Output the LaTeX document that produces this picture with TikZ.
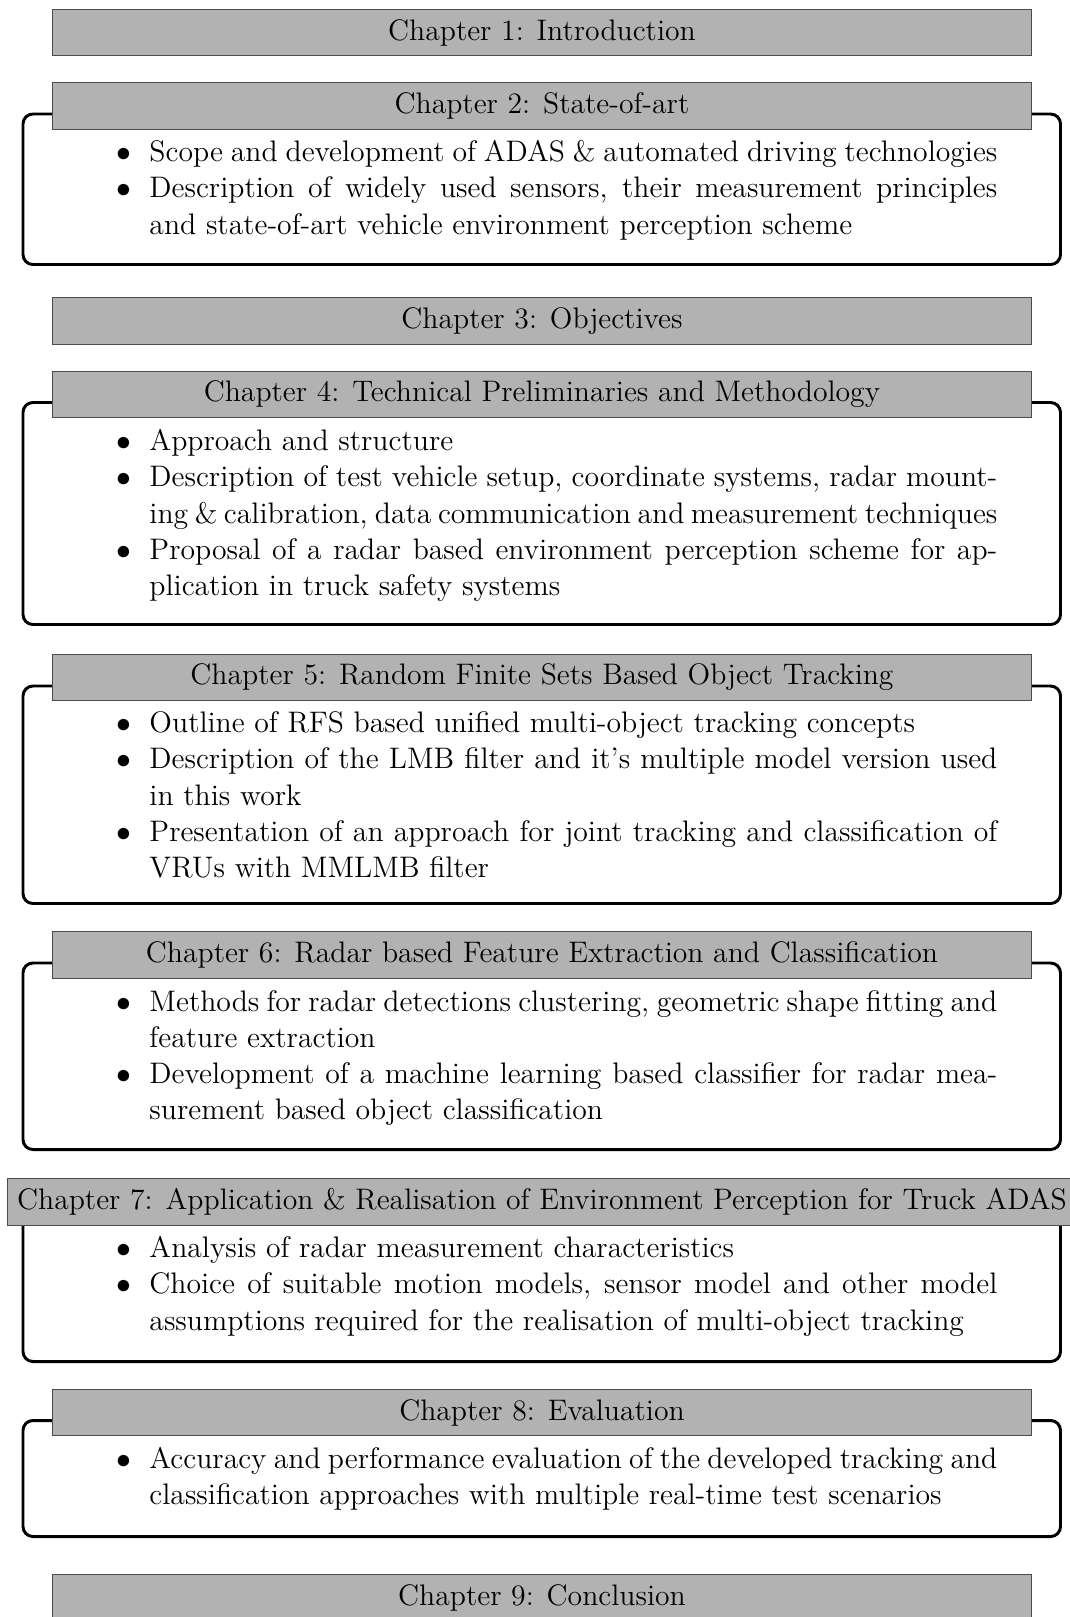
\documentclass[tikz,border=0pt]{standalone}
\newcommand\itembullet{\llap{$\bullet$\hspace{7.44pt}}}
\begin{document}
\begin{tikzpicture}[x=0.4043pt, y=-0.4043pt,
  font=\fontsize{12}{14.68}\selectfont,
  chapbar/.style={draw=black!70, line width=0.4pt, fill=black!30,
    minimum width=396.2pt, minimum height=18.2pt, inner sep=4pt},
  chapbox/.style={draw=black, line width=1.2pt, rounded corners=4pt},
  itemtext/.style={anchor=base west, text width=342.8pt, align=justify, inner sep=0pt}]
\useasboundingbox (0,0) rectangle (1070,1617);

% Chapter 1
\node[chapbar] (c1) at (542,32.5) {Chapter 1: Introduction};

% Chapter 2
\draw[chapbox] (23,114) rectangle (1060.5,264.5);
\node[chapbar] (c2) at (542,106) {Chapter 2: State-of-art};
\node[itemtext] (i21) at (149,161.5) {\itembullet Scope and development of ADAS \& automated driving technologies};
\node[itemtext] (i22) at (149,197.8) {\itembullet Description of widely used sensors, their measurement principles and state-of-art vehicle environment perception scheme};

% Chapter 3
\node[chapbar] (c3) at (542,321) {Chapter 3: Objectives};

% Chapter 4
\draw[chapbox] (23,402.5) rectangle (1060.5,624.5);
\node[chapbar] (c4) at (542,394.5) {Chapter 4: Technical Preliminaries and Methodology};
\node[itemtext] (i41) at (149,450.5) {\itembullet Approach and structure};
\node[itemtext] (i42) at (149,486.8) {\itembullet Description of test vehicle setup, coordinate systems, radar mounting \& calibration, data communication and measurement techniques};
\node[itemtext] (i43) at (149,559.4) {\itembullet Proposal of a radar based environment perception scheme for application in truck safety systems};

% Chapter 5
\draw[chapbox] (23,686) rectangle (1060.5,903.5);
\node[chapbar] (c5) at (542,677.5) {Chapter 5: Random Finite Sets Based Object Tracking};
\node[itemtext] (i51) at (149,732.5) {\itembullet Outline of RFS based unified multi-object tracking concepts};
\node[itemtext] (i52) at (149,768.8) {\itembullet Description of the LMB filter and it's multiple model version used in this work};
\node[itemtext] (i53) at (149,841.4) {\itembullet Presentation of an approach for joint tracking and classification of VRUs with MMLMB filter};

% Chapter 6
\draw[chapbox] (23,963) rectangle (1060.5,1149.5);
\node[chapbar] (c6) at (542,955) {Chapter 6: Radar based Feature Extraction and Classification};
\node[itemtext] (i61) at (149,1011) {\itembullet Methods for radar detections clustering, geometric shape fitting and feature extraction};
\node[itemtext] (i62) at (149,1083.6) {\itembullet Development of a machine learning based classifier for radar measurement based object classification};

% Chapter 7
\draw[chapbox] (23,1210) rectangle (1060.5,1361.5);
\node[chapbar] (c7) at (542,1202) {Chapter 7: Application \& Realisation of Environment Perception for Truck ADAS};
\node[itemtext] (i71) at (149,1257.5) {\itembullet Analysis of radar measurement characteristics};
\node[itemtext] (i72) at (149,1293.8) {\itembullet Choice of suitable motion models, sensor model and other model assumptions required for the realisation of multi-object tracking};

% Chapter 8
\draw[chapbox] (23,1420.5) rectangle (1060.5,1536.5);
\node[chapbar] (c8) at (542,1412.5) {Chapter 8: Evaluation};
\node[itemtext] (i81) at (149,1468.5) {\itembullet Accuracy and performance evaluation of the developed tracking and classification approaches with multiple real-time test scenarios};

% Chapter 9
\node[chapbar] (c9) at (542,1597.5) {Chapter 9: Conclusion};
\end{tikzpicture}
\end{document}
